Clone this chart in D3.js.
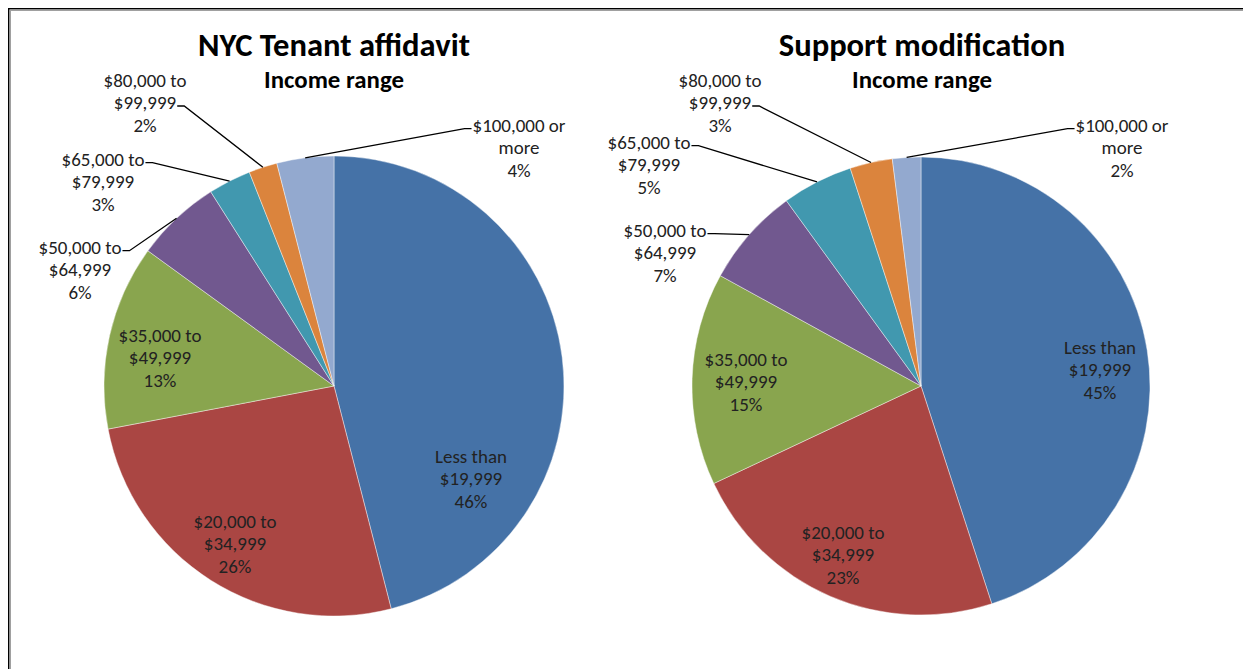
<!DOCTYPE html>
<html>
<head>
<meta charset="utf-8">
<script src="https://cdn.jsdelivr.net/npm/d3@7"></script>
<style>
  html, body { margin: 0; padding: 0; background: #fff; }
  svg { display: block; }
</style>
</head>
<body>
<svg id="chart" width="1243" height="669"></svg>
<script>
// ---------- data ----------
const categoryLines = [
  ["Less than", "$19,999"],
  ["$20,000 to", "$34,999"],
  ["$35,000 to", "$49,999"],
  ["$50,000 to", "$64,999"],
  ["$65,000 to", "$79,999"],
  ["$80,000 to", "$99,999"],
  ["$100,000 or", "more"]
];
const tenantValues  = [46, 26, 13, 6, 3, 2, 4];
const supportValues = [45, 23, 15, 7, 5, 3, 2];
const chartTitles = ["NYC Tenant affidavit", "Support modification"];
const subtitleText = "Income range";
const sliceColors = ["#4572A7", "#AA4643", "#89A54E", "#71588F", "#4198AF", "#DB843D", "#93A9CF"];

// ---------- layout (label placement, not data) ----------
// [x, y] of the centre of the middle text line; leader: null | {line: index, side: "right"|"left"}
const layouts = [
  {
    cx: 334, cy: 386, r: 230, titleX: 334,
    labels: [[471, 479], [235, 544], [160, 358], [80, 270], [103, 182], [145, 103], [519, 148]],
    leaders: [null, null, null, {line: 0, side: "right"}, {line: 0, side: "right"}, {line: 1, side: "right"}, {line: 0, side: "left"}]
  },
  {
    cx: 921, cy: 386, r: 229, titleX: 922,
    labels: [[1100, 370], [843, 555], [746, 382], [665, 253], [649, 165], [720, 103], [1122, 148]],
    leaders: [null, null, null, {line: 0, side: "right"}, {line: 0, side: "right"}, {line: 1, side: "right"}, {line: 0, side: "left"}]
  }
];

const FONT = "Carlito, Calibri, Lato, 'Open Sans', sans-serif";
const svg = d3.select("#chart");

// helper: font size that makes a string a given width
function fitSize(str, weight, targetWidth) {
  const t = svg.append("text").attr("font-family", FONT).attr("font-weight", weight)
    .attr("font-size", 100).text(str);
  const w = t.node().getComputedTextLength();
  t.remove();
  return 100 * targetWidth / w;
}
const titleSize = fitSize(chartTitles[0], "bold", 272);
const subSize = fitSize(subtitleText, "bold", 140);
const labelSize = fitSize("$100,000 or", "normal", 93);
const lineH = 22.3;

// ---------- frame ----------
svg.append("path").attr("d", "M8.75,680 V8.75 H1260").attr("fill", "none")
  .attr("stroke", "#000").attr("stroke-width", 1.5);
svg.append("path").attr("d", "M10.25,680 V10.25 H1260").attr("fill", "none")
  .attr("stroke", "#a0a0a0").attr("stroke-width", 1.5);

const pie = d3.pie().sort(null).value(d => d);

[tenantValues, supportValues].forEach((values, ci) => {
  const L = layouts[ci];
  const g = svg.append("g");
  const arcs = pie(values);
  const arc = d3.arc().innerRadius(0).outerRadius(L.r);

  // titles
  g.append("text").attr("x", L.titleX).attr("y", 56)
    .attr("text-anchor", "middle").attr("font-family", FONT).attr("font-weight", "bold")
    .attr("font-size", titleSize).attr("fill", "#000").text(chartTitles[ci]);
  g.append("text").attr("x", L.titleX).attr("y", 88)
    .attr("text-anchor", "middle").attr("font-family", FONT).attr("font-weight", "bold")
    .attr("font-size", subSize).attr("fill", "#000").text(subtitleText);

  const pg = g.append("g").attr("transform", `translate(${L.cx},${L.cy})`);
  pg.selectAll("path.slice").data(arcs).join("path")
    .attr("class", "slice")
    .attr("d", arc)
    .attr("fill", (d, i) => sliceColors[i])
    .attr("stroke", "#ffffff").attr("stroke-width", 0.6).attr("stroke-opacity", 0.7);

  // labels
  arcs.forEach((d, i) => {
    const [lx, ly] = L.labels[i];
    const lines = [categoryLines[i][0], categoryLines[i][1], values[i] + "%"];
    const txt = g.append("text").attr("font-family", FONT).attr("font-size", labelSize)
      .attr("fill", "#222").attr("text-anchor", "middle");
    const tspans = [];
    lines.forEach((s, k) => {
      const ts = txt.append("tspan").attr("x", lx)
        .attr("y", ly + (k - 1) * lineH + labelSize * 0.34).text(s);
      tspans.push(ts);
    });
    const ld = L.leaders[i];
    if (ld) {
      const w = tspans[ld.line].node().getComputedTextLength();
      const yLine = ly + (ld.line - 1) * lineH + 3;
      const mid = (d.startAngle + d.endAngle) / 2;
      const px = L.cx + L.r * Math.sin(mid);
      const py = L.cy - L.r * Math.cos(mid);
      let x0, x1;
      if (ld.side === "right") { x0 = lx + w / 2 + 1; x1 = x0 + 7; }
      else { x0 = lx - w / 2 - 1; x1 = x0 - 7; }
      g.append("path").attr("d", `M${x0},${yLine} L${x1},${yLine} L${px},${py}`)
        .attr("fill", "none").attr("stroke", "#000").attr("stroke-width", 1.3);
    }
  });
});
</script>
</body>
</html>
